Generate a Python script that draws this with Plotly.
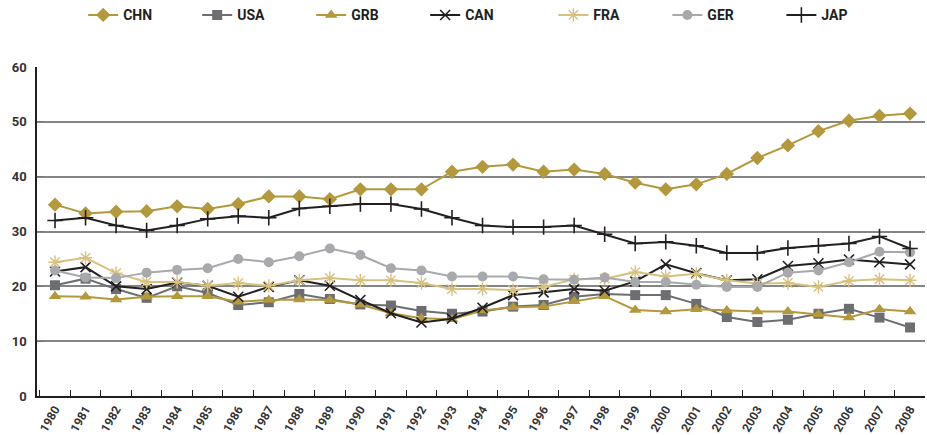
import plotly.graph_objects as go

years = list(range(1980, 2009))

CHN = [34.9, 33.3, 33.6, 33.7, 34.6, 34.1, 35.0, 36.4, 36.4, 35.9,
       37.7, 37.7, 37.7, 40.9, 41.8, 42.2, 40.9, 41.3, 40.5, 38.9,
       37.7, 38.6, 40.5, 43.4, 45.7, 48.3, 50.2, 51.1, 51.5]
USA = [20.2, 21.4, 19.5, 17.9, 20.0, 18.8, 16.6, 17.1, 18.6, 17.7,
       16.7, 16.5, 15.5, 15.0, 15.4, 16.3, 16.6, 18.1, 18.6, 18.4,
       18.4, 16.8, 14.4, 13.5, 13.9, 15.0, 15.9, 14.3, 12.5]
GRB = [18.2, 18.1, 17.6, 18.1, 18.2, 18.2, 17.2, 17.5, 17.6, 17.5,
       16.7, 15.1, 14.2, 14.0, 15.6, 16.2, 16.3, 17.3, 18.2, 15.7,
       15.4, 15.8, 15.6, 15.4, 15.4, 14.9, 14.3, 15.8, 15.4]
CAN = [22.7, 23.5, 20.0, 19.5, 20.7, 20.1, 18.1, 19.9, 21.1, 20.1,
       17.5, 15.1, 13.4, 14.1, 16.1, 18.4, 18.9, 19.5, 19.2, 20.9,
       24.0, 22.4, 21.1, 21.3, 23.7, 24.2, 24.9, 24.4, 24.0]
FRA = [24.4, 25.2, 22.4, 20.8, 20.8, 20.1, 20.6, 20.1, 21.1, 21.5,
       21.1, 21.1, 20.6, 19.5, 19.5, 19.3, 19.9, 21.3, 21.4, 22.6,
       21.8, 22.3, 21.1, 20.5, 20.6, 19.9, 21.0, 21.3, 21.1]
GER = [22.9, 21.6, 21.5, 22.5, 23.0, 23.3, 25.0, 24.4, 25.5, 26.9,
       25.7, 23.3, 22.9, 21.8, 21.8, 21.8, 21.3, 21.2, 21.6, 20.8,
       20.8, 20.3, 19.9, 19.9, 22.5, 22.9, 24.4, 26.3, 26.2]
JAP = [32.0, 32.5, 31.1, 30.2, 31.1, 32.3, 32.8, 32.5, 34.2, 34.6,
       35.0, 35.0, 34.1, 32.5, 31.1, 30.8, 30.8, 31.1, 29.5, 27.8,
       28.1, 27.4, 26.1, 26.1, 27.0, 27.4, 27.8, 29.1, 26.9]

GOLD = "#b3983c"
LGOLD = "#d8c17e"
DGREY = "#6d6e71"
LGREY = "#a7a9ac"
BLACK = "#231f20"

series = [
    ("CHN", CHN, GOLD, dict(symbol="diamond", size=11, color=GOLD), "legend"),
    ("USA", USA, DGREY, dict(symbol="square", size=10, color=DGREY), "legend"),
    ("GRB", GRB, GOLD, dict(symbol="triangle-up", size=11, color=GOLD), "legend"),
    ("CAN", CAN, BLACK, dict(symbol="x-thin-open", size=10, color=BLACK, line=dict(color=BLACK, width=1.6)), "legend"),
    ("FRA", FRA, LGOLD, dict(symbol="asterisk-open", size=11, color=LGOLD, line=dict(color=LGOLD, width=1.4)), "legend2"),
    ("GER", GER, LGREY, dict(symbol="circle", size=10, color=LGREY), "legend2"),
    ("JAP", JAP, BLACK, dict(symbol="cross-thin-open", size=11, color=BLACK, line=dict(color=BLACK, width=1.6)), "legend2"),
]

fig = go.Figure()
for name, vals, col, mk, lg in series:
    fig.add_trace(go.Scatter(x=years, y=vals, name=name, mode="lines+markers",
                             line=dict(color=col, width=2), marker=mk, legend=lg))

FONT = "Roboto"
legfont = dict(family=FONT, size=14, color=BLACK, weight="bold")
fig.update_layout(
    width=927, height=435,
    margin=dict(l=37, r=2, t=67, b=39, autoexpand=False),
    paper_bgcolor="white", plot_bgcolor="white",
    font=dict(family=FONT, color="#333333"),
    showlegend=True,
    legend=dict(orientation="h", x=0.052, xanchor="left", y=1.157, yanchor="middle",
                font=legfont, entrywidth=69, entrywidthmode="pixels", traceorder="normal"),
    legend2=dict(orientation="h", x=0.5815, xanchor="left", y=1.157, yanchor="middle",
                 font=legfont, entrywidth=69, entrywidthmode="pixels", traceorder="normal"),
)
fig.update_xaxes(
    range=[1979.41, 2008.49], tickvals=years, ticktext=[str(y) for y in years],
    tickangle=-60, ticks="", showgrid=False, zeroline=False,
    showline=True, linecolor=BLACK, linewidth=1.5,
    tickfont=dict(family=FONT, size=12, color="#333333", weight="bold"),
    automargin=False,
    minor=dict(tick0=0.5, dtick=1, ticks="inside", ticklen=6, tickcolor=BLACK, tickwidth=1, showgrid=False),
)
fig.update_yaxes(
    range=[0, 60], dtick=10, showgrid=True, gridcolor="#858585", gridwidth=1.5,
    zeroline=False, showline=True, linecolor=BLACK, linewidth=1.5,
    ticks="inside", ticklen=7, tickcolor="#777777", ticklabelstandoff=6,
    tickfont=dict(family=FONT, size=13, color="#333333", weight="bold"),
    automargin=False,
)
fig.add_shape(type="line", xref="paper", yref="y", x0=0, x1=1, y0=20, y1=20,
              line=dict(color=BLACK, width=1), layer="below")

fig.write_html("out.html", config={"displayModeBar": False},
               post_script="document.body.style.margin='0';")
